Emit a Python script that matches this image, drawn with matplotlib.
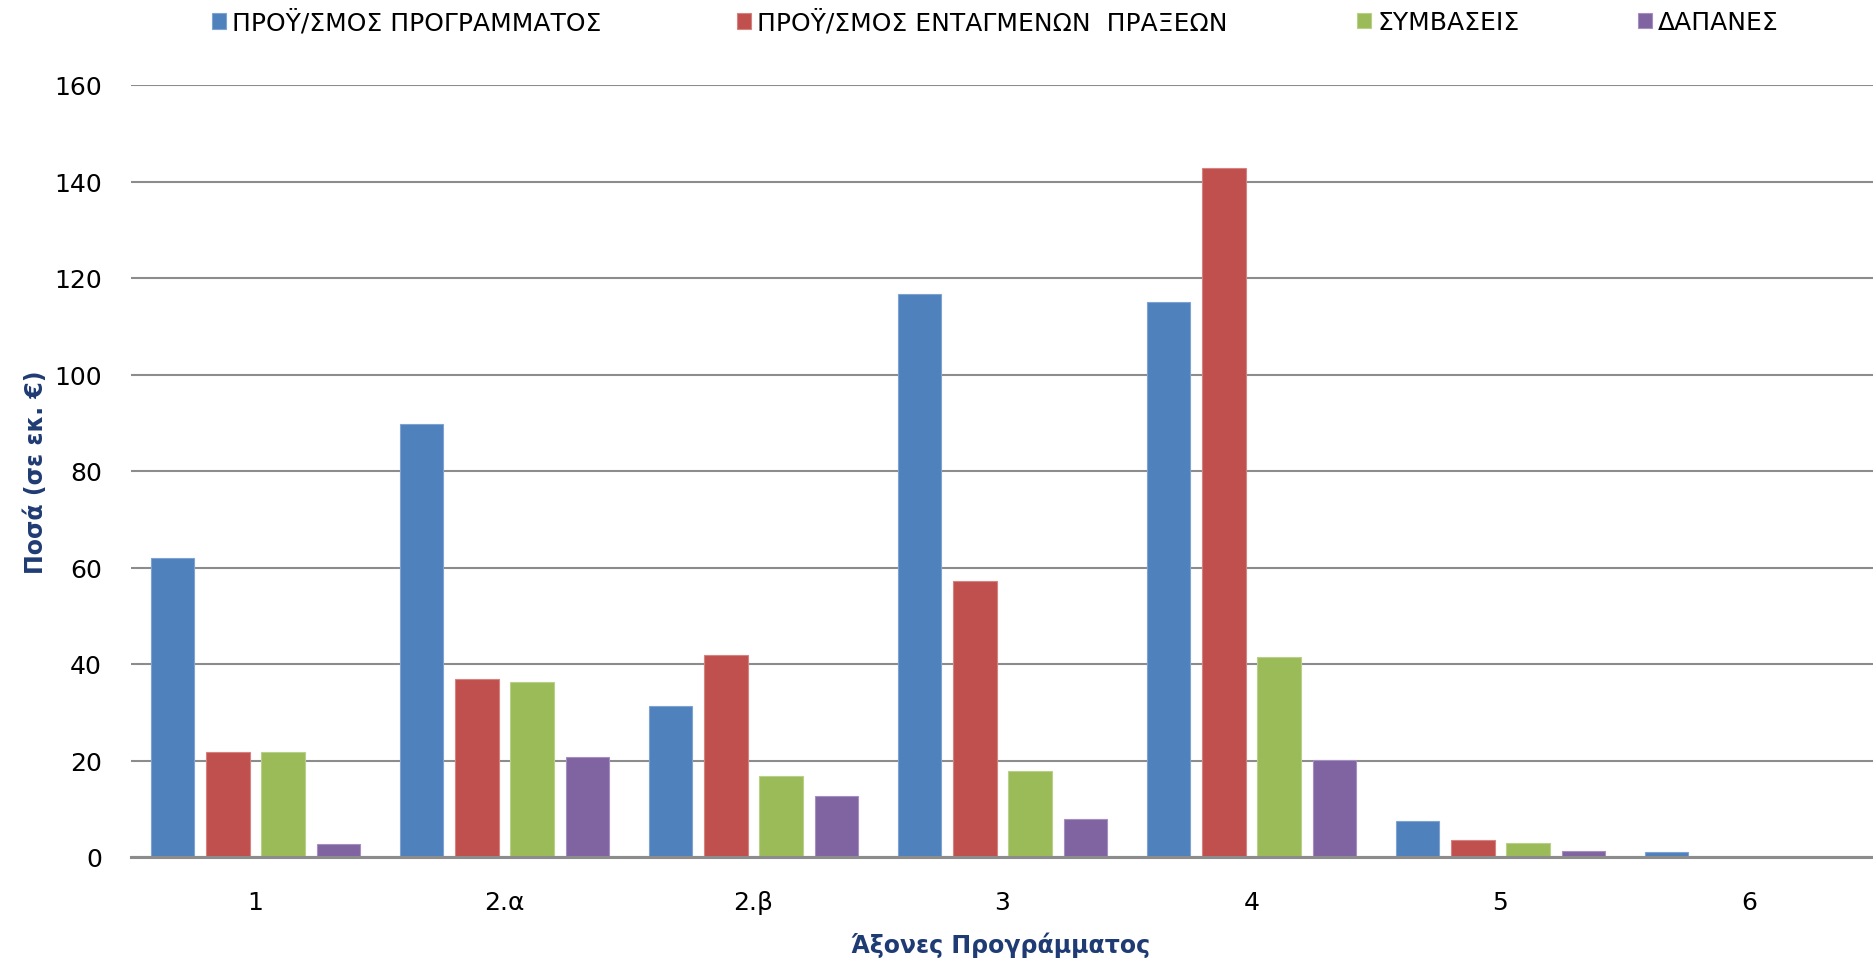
import numpy as np
import matplotlib
matplotlib.use("Agg")
import matplotlib.pyplot as plt

# κατηγορίες (άξονες προγράμματος)
categories = ['1', '2.α', '2.β', '3', '4', '5', '6']

# σειρές δεδομένων (σε εκ. €)
series_names = ['ΠΡΟΫ/ΣΜΟΣ ΠΡΟΓΡΑΜΜΑΤΟΣ', 'ΠΡΟΫ/ΣΜΟΣ ΕΝΤΑΓΜΕΝΩΝ  ΠΡΑΞΕΩΝ',
                'ΣΥΜΒΑΣΕΙΣ', 'ΔΑΠΑΝΕΣ']
programme = [61.9, 89.8, 31.2, 116.6, 115.1, 7.4, 1.1]
approved = [21.8, 36.9, 41.9, 57.2, 142.9, 3.5, 0]
contracts = [21.8, 36.2, 16.8, 17.8, 41.4, 3.0, 0]
spending = [2.7, 20.8, 12.6, 7.9, 20.1, 1.2, 0]

colors = ['#4F81BD', '#C0504D', '#9BBB59', '#8064A2']
edges = ['#7FA3D1', '#D48381', '#B9D08A', '#A48FC0']
navy = '#1F3B73'

W, H = 1874, 962
fig = plt.figure(figsize=(W / 100, H / 100), dpi=100)
ax = fig.add_axes([131 / W, 104 / H, 1 - 131 / W, 772 / H])

x = np.arange(len(categories))
step = 0.221
width = 0.173
all_series = [programme, approved, contracts, spending]
bars = []
for i, vals in enumerate(all_series):
    b = ax.bar(x + (i - 1.5) * step, vals, width, color=colors[i],
               edgecolor=edges[i], linewidth=0.8, label=series_names[i], zorder=3)
    bars.append(b)

ax.set_xlim(-0.5, len(categories) - 0.5)
ax.set_ylim(0, 160)
ax.set_yticks(np.arange(0, 161, 20))
ax.yaxis.grid(True, color='#8C8C8C', linewidth=1.5, zorder=0)
ax.set_axisbelow(True)
for s in ['top', 'right', 'left']:
    ax.spines[s].set_visible(False)
ax.spines['bottom'].set_color('#8C8C8C')
ax.spines['bottom'].set_linewidth(2.2)
ax.spines['bottom'].set_zorder(4)

ax.set_xticks(x)
ax.set_xticklabels(categories)
ax.tick_params(axis='both', length=0, labelsize=18, colors='#000000')
ax.tick_params(axis='x', pad=24)
ax.tick_params(axis='y', pad=21)

# τίτλοι αξόνων
fig.text(36 / W, 1 - 472 / H, 'Ποσά (σε εκ. €)', rotation=90, ha='center',
         va='center', fontsize=17, fontweight='bold', color=navy)
fig.text(1001 / W, 1 - 945 / H, 'Άξονες Προγράμματος', ha='center',
         va='center', fontsize=17, fontweight='bold', color=navy)

# υπόμνημα: κάθε στοιχείο στη θέση του
legend_x = [212, 737, 1357, 1638]
for i in range(4):
    fig.legend(handles=[bars[i]], labels=[series_names[i]], loc='center left',
               bbox_to_anchor=(legend_x[i] / W, 1 - 23 / H), frameon=False,
               fontsize=18, borderpad=0, borderaxespad=0, handlelength=0.56,
               handleheight=0.56, handletextpad=0.25)

fig.savefig('out.png', dpi=100)
